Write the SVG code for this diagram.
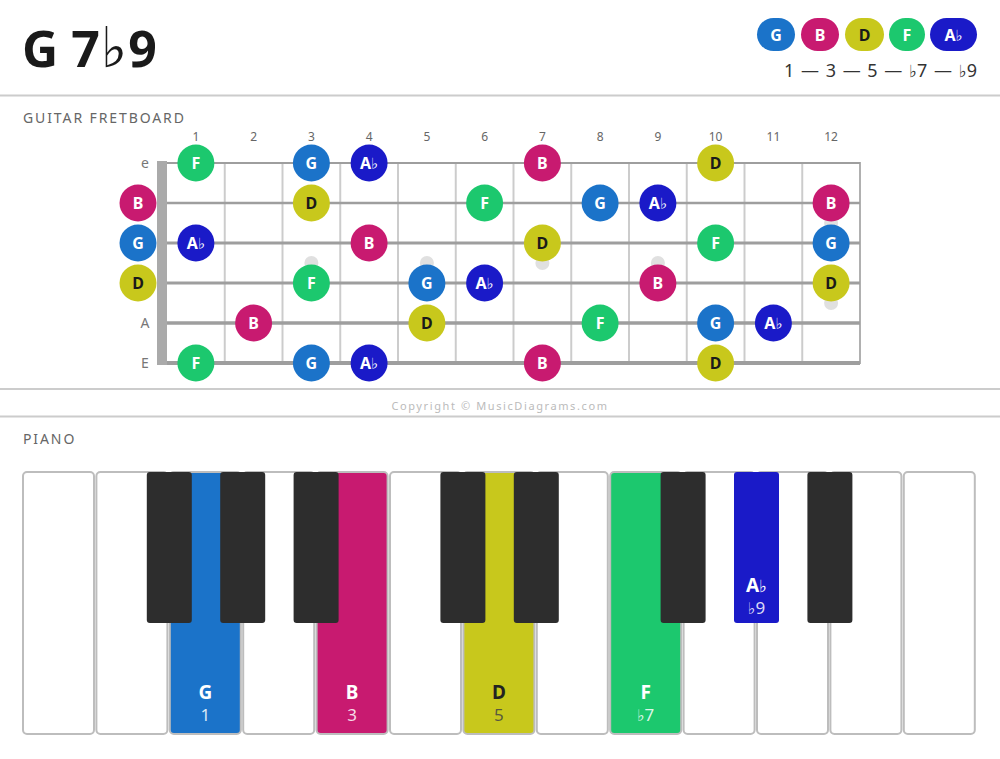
<svg xmlns="http://www.w3.org/2000/svg" width="1000" height="759" viewBox="0 0 1000 759">
<style>
text{font-family:"Noto Sans","Open Sans","DejaVu Sans",sans-serif}
.fl{font-family:"DejaVu Sans",sans-serif;font-weight:normal}
.sep{stroke:#cccccc;stroke-width:2}
.hdr{font-size:14px;fill:#666;letter-spacing:1.9px}
.fnum{font-size:12px;fill:#666;text-anchor:middle}
.slab{font-size:14px;fill:#777;text-anchor:middle}
.fret{stroke:#cccccc;stroke-width:2}
.str{stroke:#9e9e9e}
.dot{fill:#e0e0e0}
.nt{font-size:16px;font-weight:bold;text-anchor:middle;fill:#fff}
.dk{fill:#1a1a1a}
.wk{fill:#fff;stroke:#bdbdbd;stroke-width:2}
.bk{fill:#2d2d2d}
.cG{fill:#1b73c9}.cB{fill:#c81a70}.cD{fill:#c8c81c}.cF{fill:#1cc86e}.cA{fill:#1a1ac8}
.kn{font-size:19px;font-weight:bold;text-anchor:middle;fill:#fff}
.ki{font-size:17px;text-anchor:middle;fill:#fff;fill-opacity:0.85}
</style>

<!-- Title -->
<g id="title">
<text x="22" y="67" font-size="50" font-weight="bold" fill="#1a1a1a">G 7<tspan class="fl" font-size="56" dx="1">♭</tspan><tspan dx="1">9</tspan></text>
</g>

<!-- Legend -->
<g id="legend">
<g id="legend-G"><rect x="757" y="18" width="38" height="33" rx="16.5" class="cG"/><text x="776" y="40.5" class="nt">G</text></g>
<g id="legend-B"><rect x="801" y="18" width="38" height="33" rx="16.5" class="cB"/><text x="820" y="40.5" class="nt">B</text></g>
<g id="legend-D"><rect x="845" y="18" width="39" height="33" rx="16.5" class="cD"/><text x="864.5" y="40.5" class="nt dk">D</text></g>
<g id="legend-F"><rect x="889" y="18" width="36" height="33" rx="16.5" class="cF"/><text x="907" y="40.5" class="nt">F</text></g>
<g id="legend-Ab"><rect x="930" y="18" width="47" height="33" rx="16.5" class="cA"/><text x="953.5" y="40.5" class="nt">A<tspan class="fl" font-size="15">♭</tspan></text></g>
<text x="977" y="77" font-size="18" fill="#333" text-anchor="end" word-spacing="2">1 — 3 — 5 — <tspan class="fl" font-size="17">♭</tspan>7 — <tspan class="fl" font-size="17">♭</tspan>9</text>
</g>

<line x1="0" y1="95.5" x2="1000" y2="95.5" class="sep"/>
<text x="23" y="123" class="hdr">GUITAR FRETBOARD</text>

<!-- Fretboard -->
<g id="fretboard">
<g id="fret-numbers">
<text x="195.9" y="141" class="fnum">1</text>
<text x="253.6" y="141" class="fnum">2</text>
<text x="311.4" y="141" class="fnum">3</text>
<text x="369.1" y="141" class="fnum">4</text>
<text x="426.9" y="141" class="fnum">5</text>
<text x="484.6" y="141" class="fnum">6</text>
<text x="542.4" y="141" class="fnum">7</text>
<text x="600.1" y="141" class="fnum">8</text>
<text x="657.9" y="141" class="fnum">9</text>
<text x="715.6" y="141" class="fnum">10</text>
<text x="773.4" y="141" class="fnum">11</text>
<text x="831.1" y="141" class="fnum">12</text>
</g>
<g id="frets">
<line x1="224.75" y1="163" x2="224.75" y2="363" class="fret"/>
<line x1="282.5" y1="163" x2="282.5" y2="363" class="fret"/>
<line x1="340.25" y1="163" x2="340.25" y2="363" class="fret"/>
<line x1="398" y1="163" x2="398" y2="363" class="fret"/>
<line x1="455.75" y1="163" x2="455.75" y2="363" class="fret"/>
<line x1="513.5" y1="163" x2="513.5" y2="363" class="fret"/>
<line x1="571.25" y1="163" x2="571.25" y2="363" class="fret"/>
<line x1="629" y1="163" x2="629" y2="363" class="fret"/>
<line x1="686.75" y1="163" x2="686.75" y2="363" class="fret"/>
<line x1="744.5" y1="163" x2="744.5" y2="363" class="fret"/>
<line x1="802.25" y1="163" x2="802.25" y2="363" class="fret"/>
<line x1="860" y1="162" x2="860" y2="364" stroke="#b0b0b0" stroke-width="2"/>
</g>
<g id="inlays">
<circle cx="311.4" cy="263" r="7" class="dot"/>
<circle cx="426.9" cy="263" r="7" class="dot"/>
<circle cx="542.4" cy="263" r="7" class="dot"/>
<circle cx="657.9" cy="263" r="7" class="dot"/>
<circle cx="831.1" cy="223" r="7" class="dot"/>
<circle cx="831.1" cy="303" r="7" class="dot"/>
</g>
<g id="strings">
<line x1="157" y1="163" x2="860" y2="163" class="str" stroke-width="2"/>
<line x1="157" y1="203" x2="860" y2="203" class="str" stroke-width="2.4"/>
<line x1="157" y1="243" x2="860" y2="243" class="str" stroke-width="2.8"/>
<line x1="157" y1="283" x2="860" y2="283" class="str" stroke-width="3.2"/>
<line x1="157" y1="323" x2="860" y2="323" class="str" stroke-width="3.6"/>
<line x1="157" y1="363" x2="860" y2="363" class="str" stroke-width="4"/>
</g>
<rect id="nut" x="157" y="161" width="10" height="204" fill="#aaaaaa"/>
<g id="string-labels">
<text x="145" y="168" class="slab">e</text>
<text x="145" y="328" class="slab">A</text>
<text x="145" y="368" class="slab">E</text>
</g>
</g>

<!-- Fretboard notes -->
<g id="notes">
<g id="n-B-open"><circle cx="138" cy="203" r="18.5" class="cB"/><text x="138" y="208.7" class="nt">B</text></g>
<g id="n-G-open"><circle cx="138" cy="243" r="18.5" class="cG"/><text x="138" y="248.7" class="nt">G</text></g>
<g id="n-D-open"><circle cx="138" cy="283" r="18.5" class="cD"/><text x="138" y="288.7" class="nt dk">D</text></g>
<g id="n-e1"><circle cx="195.9" cy="163" r="18.5" class="cF"/><text x="195.9" y="168.7" class="nt">F</text></g>
<g id="n-e3"><circle cx="311.4" cy="163" r="18.5" class="cG"/><text x="311.4" y="168.7" class="nt">G</text></g>
<g id="n-e4"><circle cx="369.1" cy="163" r="18.5" class="cA"/><text x="369.1" y="168.7" class="nt">A<tspan class="fl" font-size="15">♭</tspan></text></g>
<g id="n-e7"><circle cx="542.4" cy="163" r="18.5" class="cB"/><text x="542.4" y="168.7" class="nt">B</text></g>
<g id="n-e10"><circle cx="715.6" cy="163" r="18.5" class="cD"/><text x="715.6" y="168.7" class="nt dk">D</text></g>
<g id="n-B3"><circle cx="311.4" cy="203" r="18.5" class="cD"/><text x="311.4" y="208.7" class="nt dk">D</text></g>
<g id="n-B6"><circle cx="484.6" cy="203" r="18.5" class="cF"/><text x="484.6" y="208.7" class="nt">F</text></g>
<g id="n-B8"><circle cx="600.1" cy="203" r="18.5" class="cG"/><text x="600.1" y="208.7" class="nt">G</text></g>
<g id="n-B9"><circle cx="657.9" cy="203" r="18.5" class="cA"/><text x="657.9" y="208.7" class="nt">A<tspan class="fl" font-size="15">♭</tspan></text></g>
<g id="n-B12"><circle cx="831.1" cy="203" r="18.5" class="cB"/><text x="831.1" y="208.7" class="nt">B</text></g>
<g id="n-G1"><circle cx="195.9" cy="243" r="18.5" class="cA"/><text x="195.9" y="248.7" class="nt">A<tspan class="fl" font-size="15">♭</tspan></text></g>
<g id="n-G4"><circle cx="369.1" cy="243" r="18.5" class="cB"/><text x="369.1" y="248.7" class="nt">B</text></g>
<g id="n-G7"><circle cx="542.4" cy="243" r="18.5" class="cD"/><text x="542.4" y="248.7" class="nt dk">D</text></g>
<g id="n-G10"><circle cx="715.6" cy="243" r="18.5" class="cF"/><text x="715.6" y="248.7" class="nt">F</text></g>
<g id="n-G12"><circle cx="831.1" cy="243" r="18.5" class="cG"/><text x="831.1" y="248.7" class="nt">G</text></g>
<g id="n-D3"><circle cx="311.4" cy="283" r="18.5" class="cF"/><text x="311.4" y="288.7" class="nt">F</text></g>
<g id="n-D5"><circle cx="426.9" cy="283" r="18.5" class="cG"/><text x="426.9" y="288.7" class="nt">G</text></g>
<g id="n-D6"><circle cx="484.6" cy="283" r="18.5" class="cA"/><text x="484.6" y="288.7" class="nt">A<tspan class="fl" font-size="15">♭</tspan></text></g>
<g id="n-D9"><circle cx="657.9" cy="283" r="18.5" class="cB"/><text x="657.9" y="288.7" class="nt">B</text></g>
<g id="n-D12"><circle cx="831.1" cy="283" r="18.5" class="cD"/><text x="831.1" y="288.7" class="nt dk">D</text></g>
<g id="n-A2"><circle cx="253.6" cy="323" r="18.5" class="cB"/><text x="253.6" y="328.7" class="nt">B</text></g>
<g id="n-A5"><circle cx="426.9" cy="323" r="18.5" class="cD"/><text x="426.9" y="328.7" class="nt dk">D</text></g>
<g id="n-A8"><circle cx="600.1" cy="323" r="18.5" class="cF"/><text x="600.1" y="328.7" class="nt">F</text></g>
<g id="n-A10"><circle cx="715.6" cy="323" r="18.5" class="cG"/><text x="715.6" y="328.7" class="nt">G</text></g>
<g id="n-A11"><circle cx="773.4" cy="323" r="18.5" class="cA"/><text x="773.4" y="328.7" class="nt">A<tspan class="fl" font-size="15">♭</tspan></text></g>
<g id="n-E1"><circle cx="195.9" cy="363" r="18.5" class="cF"/><text x="195.9" y="368.7" class="nt">F</text></g>
<g id="n-E3"><circle cx="311.4" cy="363" r="18.5" class="cG"/><text x="311.4" y="368.7" class="nt">G</text></g>
<g id="n-E4"><circle cx="369.1" cy="363" r="18.5" class="cA"/><text x="369.1" y="368.7" class="nt">A<tspan class="fl" font-size="15">♭</tspan></text></g>
<g id="n-E7"><circle cx="542.4" cy="363" r="18.5" class="cB"/><text x="542.4" y="368.7" class="nt">B</text></g>
<g id="n-E10"><circle cx="715.6" cy="363" r="18.5" class="cD"/><text x="715.6" y="368.7" class="nt dk">D</text></g>
</g>

<g id="connectors"></g>

<line x1="0" y1="389" x2="1000" y2="389" class="sep"/>
<text x="500" y="410" font-size="11" fill="#bbbbbb" text-anchor="middle" letter-spacing="1.6">Copyright © MusicDiagrams.com</text>
<line x1="0" y1="416.5" x2="1000" y2="416.5" class="sep"/>
<text x="23" y="444" class="hdr">PIANO</text>

<!-- Piano -->
<g id="piano">
<g id="white-keys">
<rect x="23" y="472" width="71" height="262" rx="4" class="wk"/>
<rect x="96.4" y="472" width="71" height="262" rx="4" class="wk"/>
<rect x="169.8" y="472" width="71" height="262" rx="4" class="wk" style="fill:#1b73c9"/>
<rect x="243.2" y="472" width="71" height="262" rx="4" class="wk"/>
<rect x="316.6" y="472" width="71" height="262" rx="4" class="wk" style="fill:#c81a70"/>
<rect x="390" y="472" width="71" height="262" rx="4" class="wk"/>
<rect x="463.4" y="472" width="71" height="262" rx="4" class="wk" style="fill:#c8c81c"/>
<rect x="536.8" y="472" width="71" height="262" rx="4" class="wk"/>
<rect x="610.2" y="472" width="71" height="262" rx="4" class="wk" style="fill:#1cc86e"/>
<rect x="683.6" y="472" width="71" height="262" rx="4" class="wk"/>
<rect x="757" y="472" width="71" height="262" rx="4" class="wk"/>
<rect x="830.4" y="472" width="71" height="262" rx="4" class="wk"/>
<rect x="903.8" y="472" width="71" height="262" rx="4" class="wk"/>
</g>
<g id="black-keys">
<rect x="146.8" y="472" width="45" height="151" rx="3" class="bk"/>
<rect x="220.2" y="472" width="45" height="151" rx="3" class="bk"/>
<rect x="293.6" y="472" width="45" height="151" rx="3" class="bk"/>
<rect x="440.4" y="472" width="45" height="151" rx="3" class="bk"/>
<rect x="513.8" y="472" width="45" height="151" rx="3" class="bk"/>
<rect x="660.6" y="472" width="45" height="151" rx="3" class="bk"/>
<rect x="734" y="472" width="45" height="151" rx="3" class="cA"/>
<rect x="807.4" y="472" width="45" height="151" rx="3" class="bk"/>
</g>
<g id="key-G"><text x="205.3" y="698.5" class="kn">G</text><text x="205.3" y="721" class="ki">1</text></g>
<g id="key-B"><text x="352.1" y="698.5" class="kn">B</text><text x="352.1" y="721" class="ki">3</text></g>
<g id="key-D"><text x="498.9" y="698.5" class="kn" style="fill:#222">D</text><text x="498.9" y="721" class="ki" style="fill:#444">5</text></g>
<g id="key-F"><text x="645.7" y="698.5" class="kn">F</text><text x="645.7" y="721" class="ki"><tspan class="fl" font-size="16">♭</tspan>7</text></g>
<g id="key-Ab"><text x="756.5" y="592" class="kn">A<tspan class="fl" font-size="17">♭</tspan></text><text x="756.5" y="614" class="ki"><tspan class="fl" font-size="16">♭</tspan>9</text></g>
</g>
</svg>
